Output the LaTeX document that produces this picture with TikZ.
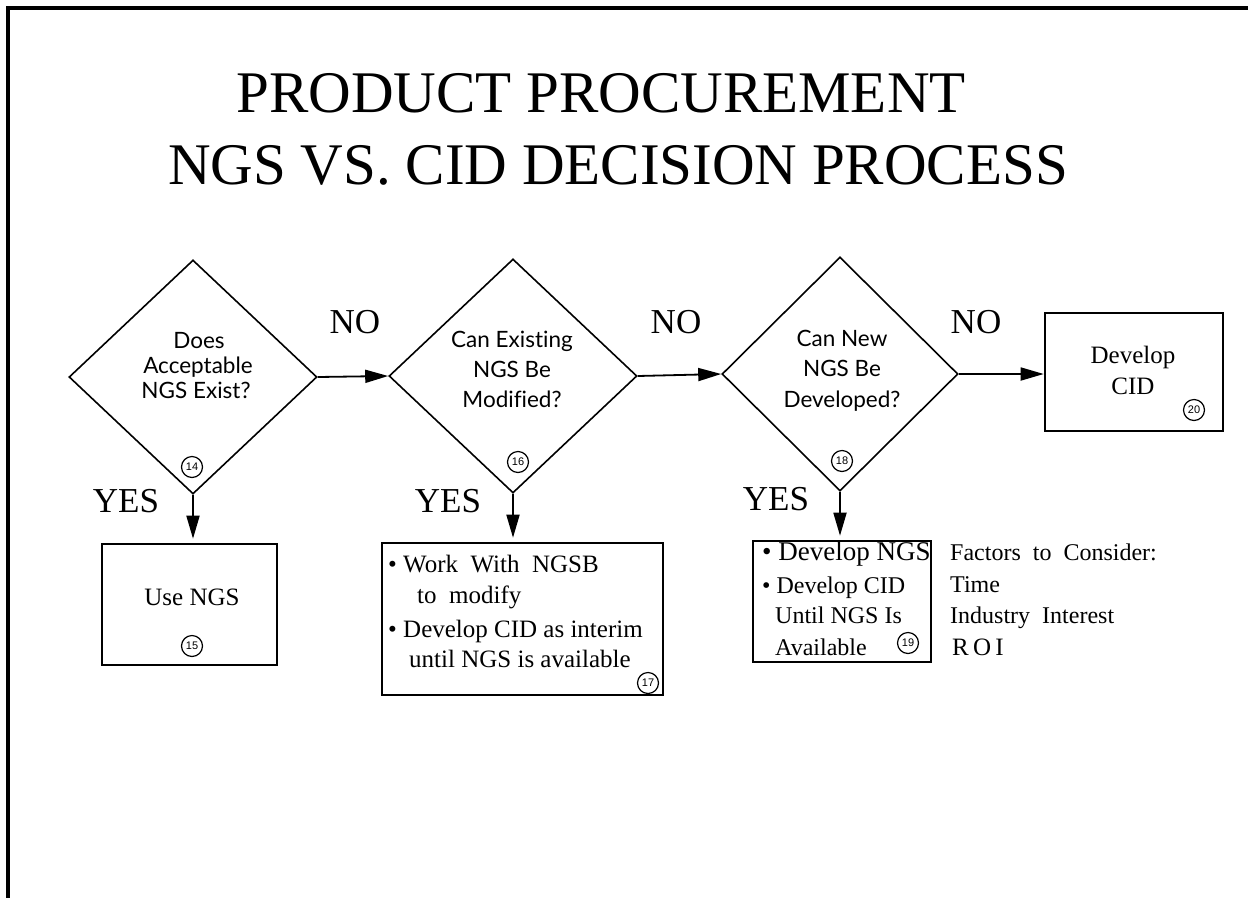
\documentclass[tikz,border=0pt]{standalone}
\usepackage{fontspec}
\setmainfont{Liberation Serif}
\newfontfamily\dfont{Lato}[Ligatures=NoCommon]
\newfontfamily\nfont{Liberation Sans}
\usetikzlibrary{shapes.geometric,arrows.meta}
\tikzset{
  dia/.style={draw,diamond,line width=1.6pt,inner sep=0pt,minimum height=234pt},
  boxn/.style={draw,rectangle,line width=2.6pt,inner sep=0pt},
  arr/.style={line width=1.8pt,-{Triangle[length=23pt,width=13pt]}},
  dtext/.style={font=\dfont\fontsize{22.5pt}{29pt}\selectfont,anchor=base,inner sep=0pt},
  ttl/.style={font=\fontsize{59pt}{70pt}\selectfont,anchor=base,inner sep=0pt},
  lbl/.style={font=\fontsize{35pt}{40pt}\selectfont,anchor=base,inner sep=0pt},
  btext/.style={font=\fontsize{25pt}{30pt}\selectfont,anchor=base,inner sep=0pt},
  bl/.style={font=\fontsize{25pt}{30pt}\selectfont,anchor=base west,inner sep=0pt},
  num/.style={draw,circle,line width=1.2pt,inner sep=0pt,minimum size=21pt,font=\nfont\fontsize{11pt}{12pt}\selectfont}
}
\begin{document}
\begin{tikzpicture}[x=1pt,y=-1pt]
\useasboundingbox (0,0) rectangle (1248,898);
% frame
\coordinate (tl) at (6,8);
\coordinate (tr) at (1248,8);
\coordinate (lt) at (8,8);
\coordinate (lb) at (8,898);
\draw[line width=4.5pt] (tl) -- (tr);
\draw[line width=4pt] (lt) -- (lb);
% title
\node[ttl] (t1) at (601,112) {PRODUCT PROCUREMENT};
\node[ttl] (t2) at (618,184) {NGS VS. CID DECISION PROCESS};
% diamonds
\node[dia,minimum width=248pt] (d1) at (193,377) {};
\node[dia,minimum width=248pt] (d2) at (513,376) {};
\node[dia,minimum width=236pt] (d3) at (840,374) {};
\node[dtext] (d1a) at (199,348) {Does};
\node[dtext] (d1b) at (198,373) {Acceptable};
\node[dtext] (d1c) at (196,398) {NGS Exist?};
\node[dtext] (d2a) at (512,347) {Can Existing};
\node[dtext] (d2b) at (512,377) {NGS Be};
\node[dtext] (d2c) at (512,407) {Modified?};
\node[dtext] (d3a) at (842,346) {Can New};
\node[dtext] (d3b) at (842,376) {NGS Be};
\node[dtext] (d3c) at (842,407) {Developed?};
\node[num] (n14) at (192,467) {14};
\node[num] (n16) at (518,462) {16};
\node[num] (n18) at (842,461) {18};
% boxes
\node[boxn,minimum width=175pt,minimum height=121pt] (b15) at (189.5,604.5) {};
\node[boxn,minimum width=281pt,minimum height=152pt] (b17) at (522.5,619) {};
\node[boxn,minimum width=178pt,minimum height=121pt] (b19) at (842,601.5) {};
\node[boxn,minimum width=178pt,minimum height=118pt] (b20) at (1134,372) {};
% box texts
\node[btext] (u15) at (192,605) {Use NGS};
\node[num] (n15) at (192,646) {15};
\node[bl] (l17a) at (388,572) {\textbullet\ Work\ \ With\ \ NGSB};
\node[bl] (l17b) at (417,603) {to\ \ modify};
\node[bl] (l17c) at (388,637) {\textbullet\ Develop CID as interim};
\node[bl] (l17d) at (409,667) {until NGS is available};
\node[num] (n17) at (648,683) {17};
\node[bl,font=\fontsize{27pt}{30pt}\selectfont] (l19a) at (762,560) {\textbullet\ Develop NGS};
\node[bl,font=\fontsize{24pt}{30pt}\selectfont] (l19b) at (762,593) {\textbullet\ Develop CID};
\node[bl,font=\fontsize{24pt}{30pt}\selectfont] (l19c) at (775,623) {Until NGS Is};
\node[bl,font=\fontsize{24pt}{30pt}\selectfont] (l19d) at (775,655) {Available};
\node[num] (n19) at (908,643) {19};
\node[btext] (t20a) at (1133,363) {Develop};
\node[btext] (t20b) at (1133,394) {CID};
\node[num] (n20) at (1194,410) {20};
% factors
\node[bl,font=\fontsize{24pt}{30pt}\selectfont] (f1) at (950,560) {Factors\ \ to\ \ Consider:};
\node[bl,font=\fontsize{24pt}{30pt}\selectfont] (f2) at (950,592) {Time};
\node[bl,font=\fontsize{24pt}{30pt}\selectfont] (f3) at (950,623) {Industry\ \ Interest};
\node[bl,font=\fontsize{25pt}{30pt}\selectfont] (f4) at (952,655) {R\,O\,I};
% labels
\node[lbl] (no1) at (355,333) {NO};
\node[lbl] (no2) at (676,333) {NO};
\node[lbl] (no3) at (976,333) {NO};
\node[lbl] (y1) at (126,512) {YES};
\node[lbl] (y2) at (448,512) {YES};
\node[lbl] (y3) at (776,510) {YES};
% connectors
\draw[arr] (d1.east) -- (d2.west);
\draw[arr] (d2.east) -- (d3.west);
\draw[arr] (d3.east) -- (d3.east -| b20.west);
\draw[arr,shorten >=4pt] (d1.south) -- (d1.south |- b15.north);
\draw[arr,shorten >=4pt] (d2.south) -- (d2.south |- b17.north);
\draw[arr,shorten >=4pt] (d3.south) -- (d3.south |- b19.north);
\end{tikzpicture}
\end{document}
